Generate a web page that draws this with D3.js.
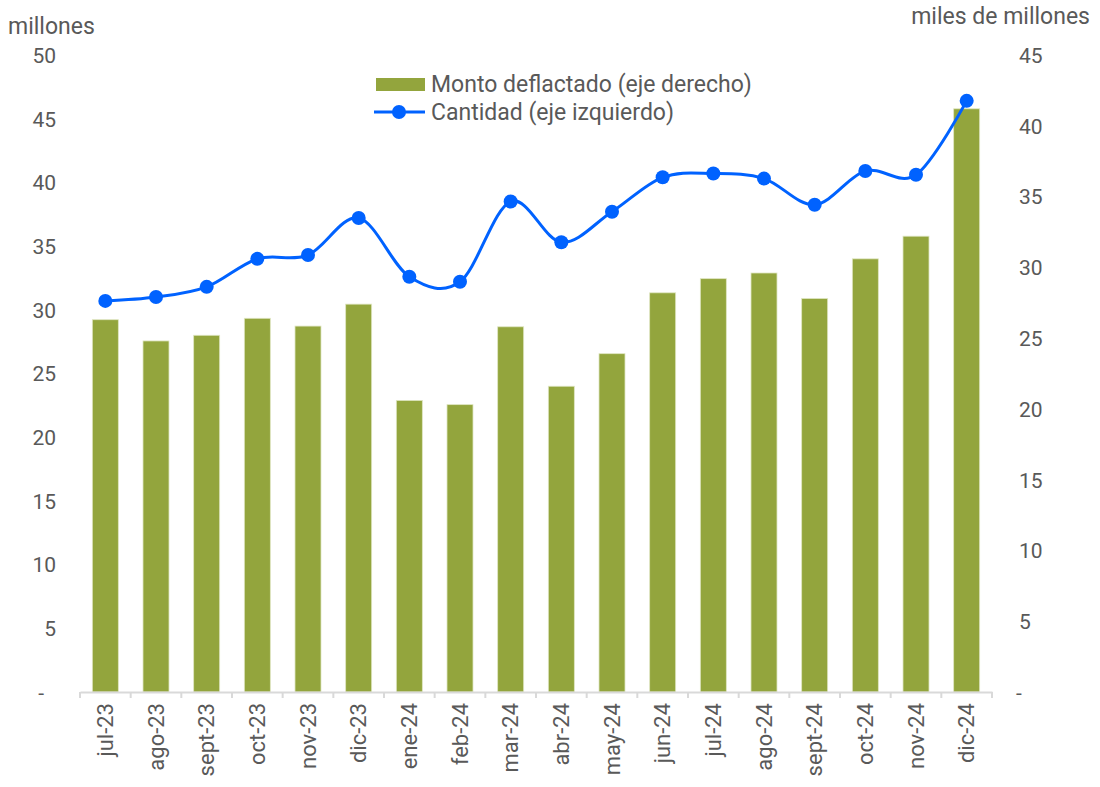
<!DOCTYPE html>
<html>
<head>
<meta charset="utf-8">
<script src="https://cdn.jsdelivr.net/npm/d3@7"></script>
<style>
  body { margin: 0; background: #fff; }
  #chart text { font-family: Roboto, "Open Sans", sans-serif; fill: #595959; }
</style>
</head>
<body>
<div id="chart"></div>
<script>
// categories and series
const months = ["jul-23", "ago-23", "sept-23", "oct-23", "nov-23", "dic-23", "ene-24", "feb-24", "mar-24",
  "abr-24", "may-24", "jun-24", "jul-24", "ago-24", "sept-24", "oct-24", "nov-24", "dic-24"];
// Monto deflactado, miles de millones (eje derecho)
const monto = [26.3, 24.8, 25.2, 26.4, 25.85, 27.4, 20.6, 20.3, 25.8, 21.6, 23.9, 28.2, 29.2, 29.6, 27.8, 30.6, 32.2, 41.2];
// Cantidad, millones (eje izquierdo)
const cantidad = [30.7, 31.0, 31.8, 34.0, 34.3, 37.2, 32.6, 32.2, 38.5, 35.3, 37.7, 40.4, 40.7, 40.3, 38.25, 40.9, 40.6, 46.4];
const leftTicks = [0, 5, 10, 15, 20, 25, 30, 35, 40, 45, 50];
const rightTicks = [0, 5, 10, 15, 20, 25, 30, 35, 40, 45];

const width = 1100;
const height = 787;
const plotLeft = 80, plotRight = 992, plotTop = 55, plotBottom = 692;

const barColor = "#93a53d";
const lineColor = "#0062ff";
const tickFont = "21px";
const catFont = "22px";
const labelFont = "23px";

const svg = d3.select("#chart")
  .append("svg")
  .attr("width", width)
  .attr("height", height);

/* Scales */
const xc = d3.scaleBand().domain(months).range([plotLeft, plotRight]);
const yL = d3.scaleLinear().domain([0, 50]).range([plotBottom, plotTop]);
const yR = d3.scaleLinear().domain([0, 45]).range([plotBottom, plotTop]);
const cx = (m) => xc(m) + xc.bandwidth() / 2;

/* Bars */
svg.append("g")
  .selectAll("rect")
  .data(monto)
  .enter()
  .append("rect")
  .attr("x", (d, i) => cx(months[i]) - 13)
  .attr("width", 26)
  .attr("y", (d) => yR(d))
  .attr("height", (d) => yR(0) - yR(d))
  .attr("fill", barColor)
  .attr("stroke", "#dfe6c2")
  .attr("stroke-width", 0.8);

/* X axis */
const gx = svg.append("g").attr("transform", `translate(0, ${plotBottom})`)
  .call(d3.axisBottom(xc).tickSize(0).tickFormat(""));
gx.select(".domain").attr("stroke", "#d9d9d9").attr("stroke-width", 2);
gx.selectAll(".tick").remove();
gx.selectAll(".sep")
  .data(d3.range(months.length + 1))
  .enter()
  .append("line")
  .attr("x1", (i) => plotLeft + i * xc.step())
  .attr("x2", (i) => plotLeft + i * xc.step())
  .attr("y1", 0)
  .attr("y2", 6)
  .attr("stroke", "#d9d9d9")
  .attr("stroke-width", 2);

svg.append("g")
  .selectAll("text")
  .data(months)
  .enter()
  .append("text")
  .attr("transform", (d) => `translate(${cx(d) + 7.5}, 703) rotate(-90)`)
  .attr("text-anchor", "end")
  .style("font-size", catFont)
  .text((d) => d);

/* Left axis */
const gl = svg.append("g").attr("transform", "translate(56, 0)")
  .call(d3.axisLeft(yL).tickValues(leftTicks).tickSize(0).tickFormat((d) => (d === 0 ? "-" : d)));
gl.select(".domain").remove();
gl.selectAll("text").attr("x", 0).style("font-size", tickFont).attr("dy", "0.35em");
gl.selectAll(".tick").filter((d) => d === 0).select("text").attr("x", -12);

/* Right axis */
const gr = svg.append("g").attr("transform", "translate(1019, 0)")
  .call(d3.axisRight(yR).tickValues(rightTicks).tickSize(0).tickFormat((d) => (d === 0 ? "-" : d)));
gr.select(".domain").remove();
gr.selectAll("text").attr("x", 0).style("font-size", tickFont).attr("dy", "0.35em");
gr.selectAll(".tick").filter((d) => d === 0).select("text").attr("x", -3);

/* Axis titles */
svg.append("text").attr("x", 8).attr("y", 34).style("font-size", labelFont).text("millones");
svg.append("text").attr("x", 1090).attr("y", 24).attr("text-anchor", "end")
  .style("font-size", labelFont).text("miles de millones");

/* Line */
const line = d3.line()
  .x((d, i) => cx(months[i]))
  .y((d) => yL(d))
  .curve(d3.curveCatmullRom.alpha(0));

svg.append("path")
  .datum(cantidad)
  .attr("d", line)
  .attr("fill", "none")
  .attr("stroke", lineColor)
  .attr("stroke-width", 3);

svg.append("g")
  .selectAll("circle")
  .data(cantidad)
  .enter()
  .append("circle")
  .attr("cx", (d, i) => cx(months[i]))
  .attr("cy", (d) => yL(d))
  .attr("r", 7)
  .attr("fill", lineColor);

/* Legend */
const legend = svg.append("g");
legend.append("rect").attr("x", 376).attr("y", 78).attr("width", 49).attr("height", 13).attr("fill", barColor);
legend.append("text").attr("x", 431).attr("y", 92).style("font-size", labelFont).text("Monto deflactado (eje derecho)");
legend.append("line").attr("x1", 374).attr("x2", 425).attr("y1", 112).attr("y2", 112)
  .attr("stroke", lineColor).attr("stroke-width", 3);
legend.append("circle").attr("cx", 399).attr("cy", 112).attr("r", 7).attr("fill", lineColor);
legend.append("text").attr("x", 431).attr("y", 120).style("font-size", labelFont).text("Cantidad (eje izquierdo)");
</script>
</body>
</html>
